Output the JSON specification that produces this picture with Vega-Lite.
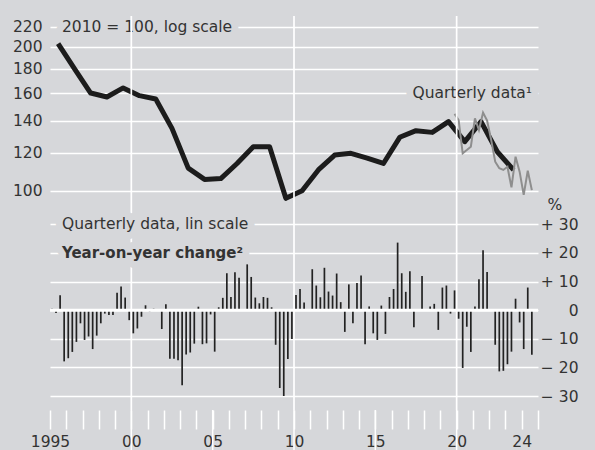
{
  "$schema": "https://vega.github.io/schema/vega-lite/v6.json",
  "width": 488,
  "height": 394,
  "autosize": {"type": "none"},
  "padding": {"left": 50, "top": 16, "right": 57, "bottom": 40},
  "background": "#d6d7da",
  "config": {
    "view": {"stroke": null},
    "font": "DejaVu Sans",
    "axis": {"labelFont": "DejaVu Sans", "titleFont": "DejaVu Sans", "labelColor": "#333333", "titleColor": "#333333", "labelFontWeight": "normal", "titleFontWeight": "normal"},
    "text": {"font": "DejaVu Sans"}
  },
  "datasets": {
    "one": [{"k": 1}],
    "annual": [
      {"date": "1995-07-02", "idx": 203}, {"date": "1996-07-02", "idx": 180}, {"date": "1997-07-02", "idx": 160},
      {"date": "1998-07-02", "idx": 157}, {"date": "1999-07-02", "idx": 164}, {"date": "2000-07-02", "idx": 158},
      {"date": "2001-07-02", "idx": 155.5}, {"date": "2002-07-02", "idx": 135}, {"date": "2003-07-02", "idx": 111.5},
      {"date": "2004-07-02", "idx": 105.6}, {"date": "2005-07-02", "idx": 106}, {"date": "2006-07-02", "idx": 114},
      {"date": "2007-07-02", "idx": 123.6}, {"date": "2008-07-02", "idx": 123.6}, {"date": "2009-07-02", "idx": 96.4},
      {"date": "2010-07-02", "idx": 100}, {"date": "2011-07-02", "idx": 110.5}, {"date": "2012-07-02", "idx": 118.7},
      {"date": "2013-07-02", "idx": 119.7}, {"date": "2014-07-02", "idx": 117}, {"date": "2015-07-02", "idx": 114},
      {"date": "2016-07-02", "idx": 129.3}, {"date": "2017-07-02", "idx": 133.5}, {"date": "2018-07-02", "idx": 132.4},
      {"date": "2019-07-02", "idx": 139.4}, {"date": "2020-07-02", "idx": 126.6}, {"date": "2021-07-02", "idx": 139.4},
      {"date": "2022-07-02", "idx": 120.6}, {"date": "2023-07-02", "idx": 110.5}
    ],
    "qtr": [
      {"date": "2019-11-15", "idx": 144.7}, {"date": "2020-02-15", "idx": 140.5}, {"date": "2020-05-16", "idx": 119.7},
      {"date": "2020-08-16", "idx": 121.6}, {"date": "2020-11-15", "idx": 123.6}, {"date": "2021-02-15", "idx": 141.7},
      {"date": "2021-05-16", "idx": 133.9}, {"date": "2021-08-16", "idx": 145.6}, {"date": "2021-11-15", "idx": 140.1},
      {"date": "2022-02-15", "idx": 127.6}, {"date": "2022-05-16", "idx": 115}, {"date": "2022-08-16", "idx": 111.4},
      {"date": "2022-11-15", "idx": 110.5}, {"date": "2023-02-15", "idx": 112.2}, {"date": "2023-05-16", "idx": 101.6},
      {"date": "2023-08-16", "idx": 117.8}, {"date": "2023-11-15", "idx": 109.6}, {"date": "2024-02-15", "idx": 98},
      {"date": "2024-05-16", "idx": 110.1}, {"date": "2024-08-16", "idx": 100.3}
    ],
    "yoy": [
      {"date": "1995-02-15", "yoy": 0.5}, {"date": "1995-05-16", "yoy": -1}, {"date": "1995-08-16", "yoy": 5.2}, {"date": "1995-11-15", "yoy": -17.9},
      {"date": "1996-02-15", "yoy": -16.8}, {"date": "1996-05-16", "yoy": -14.6}, {"date": "1996-08-16", "yoy": -11.1}, {"date": "1996-11-15", "yoy": -4.6},
      {"date": "1997-02-15", "yoy": -10.4}, {"date": "1997-05-16", "yoy": -9.2}, {"date": "1997-08-16", "yoy": -13.6}, {"date": "1997-11-15", "yoy": -8.9},
      {"date": "1998-02-15", "yoy": -4.6}, {"date": "1998-05-16", "yoy": -1.2}, {"date": "1998-08-16", "yoy": -1.7}, {"date": "1998-11-15", "yoy": -1.7},
      {"date": "1999-02-15", "yoy": 6.1}, {"date": "1999-05-16", "yoy": 8.3}, {"date": "1999-08-16", "yoy": 4.4}, {"date": "1999-11-15", "yoy": -3.5},
      {"date": "2000-02-15", "yoy": -8.1}, {"date": "2000-05-16", "yoy": -6.4}, {"date": "2000-08-16", "yoy": -2.3}, {"date": "2000-11-15", "yoy": 1.7},
      {"date": "2001-02-15", "yoy": -0.5}, {"date": "2001-05-16", "yoy": 0.5}, {"date": "2001-08-16", "yoy": 0.3}, {"date": "2001-11-15", "yoy": -6.6},
      {"date": "2002-02-15", "yoy": 2.1}, {"date": "2002-05-16", "yoy": -17}, {"date": "2002-08-16", "yoy": -17}, {"date": "2002-11-15", "yoy": -17.5},
      {"date": "2003-02-15", "yoy": -26.2}, {"date": "2003-05-16", "yoy": -15.5}, {"date": "2003-08-16", "yoy": -14.8}, {"date": "2003-11-15", "yoy": -11.7},
      {"date": "2004-02-15", "yoy": 1.2}, {"date": "2004-05-16", "yoy": -11.9}, {"date": "2004-08-16", "yoy": -11.6}, {"date": "2004-11-15", "yoy": -1.5},
      {"date": "2005-02-15", "yoy": -14.5}, {"date": "2005-05-16", "yoy": 1.0}, {"date": "2005-08-16", "yoy": 4.3}, {"date": "2005-11-15", "yoy": 12.9},
      {"date": "2006-02-15", "yoy": 4.6}, {"date": "2006-05-16", "yoy": 13.2}, {"date": "2006-08-16", "yoy": 11.3}, {"date": "2006-11-15", "yoy": 0.2},
      {"date": "2007-02-15", "yoy": 16}, {"date": "2007-05-16", "yoy": 11.6}, {"date": "2007-08-16", "yoy": 4.4}, {"date": "2007-11-15", "yoy": 2.4},
      {"date": "2008-02-15", "yoy": 4.6}, {"date": "2008-05-16", "yoy": 4.3}, {"date": "2008-08-16", "yoy": 1}, {"date": "2008-11-15", "yoy": -12.1},
      {"date": "2009-02-15", "yoy": -27.2}, {"date": "2009-05-16", "yoy": -30}, {"date": "2009-08-16", "yoy": -17.1}, {"date": "2009-11-15", "yoy": -10.1},
      {"date": "2010-02-15", "yoy": 5.3}, {"date": "2010-05-16", "yoy": 7.4}, {"date": "2010-08-16", "yoy": 2.7}, {"date": "2010-11-15", "yoy": 0.2},
      {"date": "2011-02-15", "yoy": 14.3}, {"date": "2011-05-16", "yoy": 8.6}, {"date": "2011-08-16", "yoy": 4.5}, {"date": "2011-11-15", "yoy": 14.8},
      {"date": "2012-02-15", "yoy": 6.5}, {"date": "2012-05-16", "yoy": 5.1}, {"date": "2012-08-16", "yoy": 12.8}, {"date": "2012-11-15", "yoy": 2.8},
      {"date": "2013-02-15", "yoy": -7.6}, {"date": "2013-05-16", "yoy": 9}, {"date": "2013-08-16", "yoy": -4.6}, {"date": "2013-11-15", "yoy": 9.5},
      {"date": "2014-02-15", "yoy": 12.1}, {"date": "2014-05-16", "yoy": -11.9}, {"date": "2014-08-16", "yoy": 1.3}, {"date": "2014-11-15", "yoy": -8.1},
      {"date": "2015-02-15", "yoy": -10.4}, {"date": "2015-05-16", "yoy": 1.6}, {"date": "2015-08-16", "yoy": -8.3}, {"date": "2015-11-15", "yoy": 4.6},
      {"date": "2016-02-15", "yoy": 7.4}, {"date": "2016-05-16", "yoy": 23.6}, {"date": "2016-08-16", "yoy": 12.9}, {"date": "2016-11-15", "yoy": 6.4},
      {"date": "2017-02-15", "yoy": 13.6}, {"date": "2017-05-16", "yoy": -6}, {"date": "2017-08-16", "yoy": -0.3}, {"date": "2017-11-15", "yoy": 11.9},
      {"date": "2018-02-15", "yoy": 0.3}, {"date": "2018-05-16", "yoy": 1.3}, {"date": "2018-08-16", "yoy": 2.2}, {"date": "2018-11-15", "yoy": -6.9},
      {"date": "2019-02-15", "yoy": 7.9}, {"date": "2019-05-16", "yoy": 8.6}, {"date": "2019-08-16", "yoy": -1.2}, {"date": "2019-11-15", "yoy": 6.9},
      {"date": "2020-02-15", "yoy": -3}, {"date": "2020-05-16", "yoy": -20.2}, {"date": "2020-08-16", "yoy": -5.8}, {"date": "2020-11-15", "yoy": -14.6},
      {"date": "2021-02-15", "yoy": 1.3}, {"date": "2021-05-16", "yoy": 10.8}, {"date": "2021-08-16", "yoy": 20.9}, {"date": "2021-11-15", "yoy": 13.3},
      {"date": "2022-02-15", "yoy": 0.2}, {"date": "2022-05-16", "yoy": -12.1}, {"date": "2022-08-16", "yoy": -21.4}, {"date": "2022-11-15", "yoy": -21.2},
      {"date": "2023-02-15", "yoy": -18.9}, {"date": "2023-05-16", "yoy": -14.5}, {"date": "2023-08-16", "yoy": 4}, {"date": "2023-11-15", "yoy": -4.3},
      {"date": "2024-02-15", "yoy": -13.6}, {"date": "2024-05-16", "yoy": 7.9}, {"date": "2024-08-16", "yoy": -15.6}
    ],
    "decades": [{"date": "2000-01-01"}, {"date": "2010-01-01"}, {"date": "2020-01-01"}],
    "fives": [{"date": "2000-01-01"}, {"date": "2005-01-01"}, {"date": "2010-01-01"}, {"date": "2015-01-01"}, {"date": "2020-01-01"}]
  },
  "layer": [
    {
      "layer": [
        {
          "data": {"name": "one"},
          "mark": {"type": "text", "text": "2010 = 100, log scale", "align": "left", "baseline": "middle", "fontSize": 15.5, "fill": "#d6d7da", "stroke": "#d6d7da", "strokeWidth": 14, "strokeJoin": "round"},
          "encoding": {
            "x": {"datum": {"year": 1995, "month": 9, "date": 26, "utc": true}, "type": "temporal"},
            "y": {
              "datum": 220,
              "scale": {"type": "log", "domain": [34.81, 231.8], "nice": false, "zero": false},
              "axis": {
                "orient": "left", "values": [100, 120, 140, 160, 180, 200, 220], "format": "d",
                "title": null, "domain": false, "ticks": false, "tickSize": 0, "labelPadding": 8,
                "labelFontSize": 15.5, "labelBaseline": "middle", "labelOverlap": false, "labelBound": false, "labelFlush": false,
                "grid": true, "gridColor": "#ffffff", "gridWidth": 1.5, "gridOpacity": 1
              }
            }
          }
        },
        {
          "data": {"name": "one"},
          "mark": {"type": "text", "text": "2010 = 100, log scale", "align": "left", "baseline": "middle", "fontSize": 15.5, "fill": "#333333"},
          "encoding": {
            "x": {"datum": {"year": 1995, "month": 9, "date": 26, "utc": true}, "type": "temporal"},
            "y": {"datum": 220}
          }
        },
        {
          "data": {"name": "one"},
          "mark": {"type": "text", "text": "Quarterly data¹", "align": "right", "baseline": "middle", "fontSize": 15.5, "fill": "#d6d7da", "stroke": "#d6d7da", "strokeWidth": 14, "strokeJoin": "round"},
          "encoding": {
            "x": {"datum": {"year": 2024, "month": 8, "date": 18, "utc": true}, "type": "temporal"},
            "y": {"datum": 160}
          }
        },
        {
          "data": {"name": "one"},
          "mark": {"type": "text", "text": "Quarterly data¹", "align": "right", "baseline": "middle", "fontSize": 15.5, "fill": "#333333"},
          "encoding": {
            "x": {"datum": {"year": 2024, "month": 8, "date": 18, "utc": true}, "type": "temporal"},
            "y": {"datum": 160}
          }
        },
        {
          "data": {"name": "annual"},
          "mark": {"type": "line", "color": "#1c1c1c", "strokeWidth": 5, "strokeJoin": "round"},
          "encoding": {
            "x": {"field": "date", "type": "temporal", "title": null},
            "y": {"field": "idx", "type": "quantitative", "title": null}
          }
        },
        {
          "data": {"name": "qtr"},
          "mark": {"type": "line", "color": "#8e8e8e", "strokeWidth": 2},
          "encoding": {
            "x": {"field": "date", "type": "temporal", "title": null},
            "y": {"field": "idx", "type": "quantitative", "title": null}
          }
        }
      ]
    },
    {
      "layer": [
        {
          "data": {"name": "decades"},
          "mark": {"type": "rule", "color": "#ffffff", "strokeWidth": 1.7},
          "encoding": {
            "x": {
              "field": "date", "type": "temporal", "title": null,
              "scale": {"type": "utc", "domain": [{"year": 1995, "month": 1, "date": 1, "utc": true}, {"year": 2025, "month": 1, "date": 1, "utc": true}], "nice": false},
              "axis": {
                "orient": "bottom", "tickCount": {"interval": "year", "step": 1}, "domain": false, "grid": false,
                "ticks": true, "tickSize": 19, "tickColor": "#ffffff", "tickWidth": 1.5,
                "labelExpr": "utcyear(datum.value) == 1995 ? '1995' : utcyear(datum.value) == 2024 ? '24' : (utcyear(datum.value) % 5 == 0 && utcyear(datum.value) < 2025) ? slice(toString(utcyear(datum.value)), 2) : ''",
                "labelDx": 8, "labelPadding": 5, "labelFontSize": 15.5, "labelOverlap": false, "labelBound": false, "labelFlush": false
              }
            }
          }
        },
        {
          "data": {"name": "fives"},
          "mark": {"type": "rule", "color": "#ffffff", "strokeWidth": 1.5},
          "encoding": {
            "x": {"field": "date", "type": "temporal", "title": null},
            "y": {
              "datum": -34.89,
              "scale": {"domain": [-34.89, 102.78], "nice": false, "zero": false},
              "axis": {
                "orient": "right", "values": [-30, -20, -10, 0, 10, 20, 30],
                "labelExpr": "datum.value > 0 ? '+ ' + datum.value : datum.value < 0 ? '− ' + abs(datum.value) : '0'",
                "domain": false, "ticks": false, "tickSize": 0, "labelPadding": 40, "labelAlign": "right", "labelBaseline": "middle",
                "labelFontSize": 15.5, "labelOverlap": false, "labelBound": false, "labelFlush": false,
                "grid": true, "gridColor": "#ffffff", "gridWidth": 1.5, "gridOpacity": 1,
                "title": "%", "titleAngle": 0, "titleAlign": "left", "titleBaseline": "alphabetic",
                "titleX": 9, "titleY": 193, "titleFontSize": 15.5
              }
            },
            "y2": {"datum": -50}
          }
        },
        {
          "data": {"name": "one"},
          "mark": {"type": "text", "text": "Quarterly data, lin scale", "align": "left", "baseline": "middle", "fontSize": 15.5, "fill": "#d6d7da", "stroke": "#d6d7da", "strokeWidth": 14, "strokeJoin": "round"},
          "encoding": {
            "x": {"datum": {"year": 1995, "month": 9, "date": 26, "utc": true}, "type": "temporal"},
            "y": {"datum": 30}
          }
        },
        {
          "data": {"name": "one"},
          "mark": {"type": "text", "text": "Year-on-year change²", "align": "left", "baseline": "middle", "fontSize": 15, "fontWeight": "bold", "fill": "#d6d7da", "stroke": "#d6d7da", "strokeWidth": 14, "strokeJoin": "round"},
          "encoding": {
            "x": {"datum": {"year": 1995, "month": 9, "date": 26, "utc": true}, "type": "temporal"},
            "y": {"datum": 20}
          }
        },
        {
          "data": {"name": "one"},
          "mark": {"type": "text", "text": "Quarterly data, lin scale", "align": "left", "baseline": "middle", "fontSize": 15.5, "fill": "#333333"},
          "encoding": {
            "x": {"datum": {"year": 1995, "month": 9, "date": 26, "utc": true}, "type": "temporal"},
            "y": {"datum": 30}
          }
        },
        {
          "data": {"name": "one"},
          "mark": {"type": "text", "text": "Year-on-year change²", "align": "left", "baseline": "middle", "fontSize": 15, "fontWeight": "bold", "fill": "#333333"},
          "encoding": {
            "x": {"datum": {"year": 1995, "month": 9, "date": 26, "utc": true}, "type": "temporal"},
            "y": {"datum": 20}
          }
        },
        {
          "data": {"name": "yoy"},
          "mark": {"type": "rule", "color": "#222222", "strokeWidth": 1.7},
          "encoding": {
            "x": {"field": "date", "type": "temporal", "title": null},
            "y": {"field": "yoy", "type": "quantitative", "title": "%"},
            "y2": {"datum": 0}
          }
        },
        {
          "data": {"name": "one"},
          "mark": {"type": "rule", "color": "#ffffff", "strokeWidth": 3},
          "encoding": {
            "y": {"datum": 0}
          }
        }
      ]
    }
  ],
  "resolve": {"scale": {"y": "independent"}}
}
